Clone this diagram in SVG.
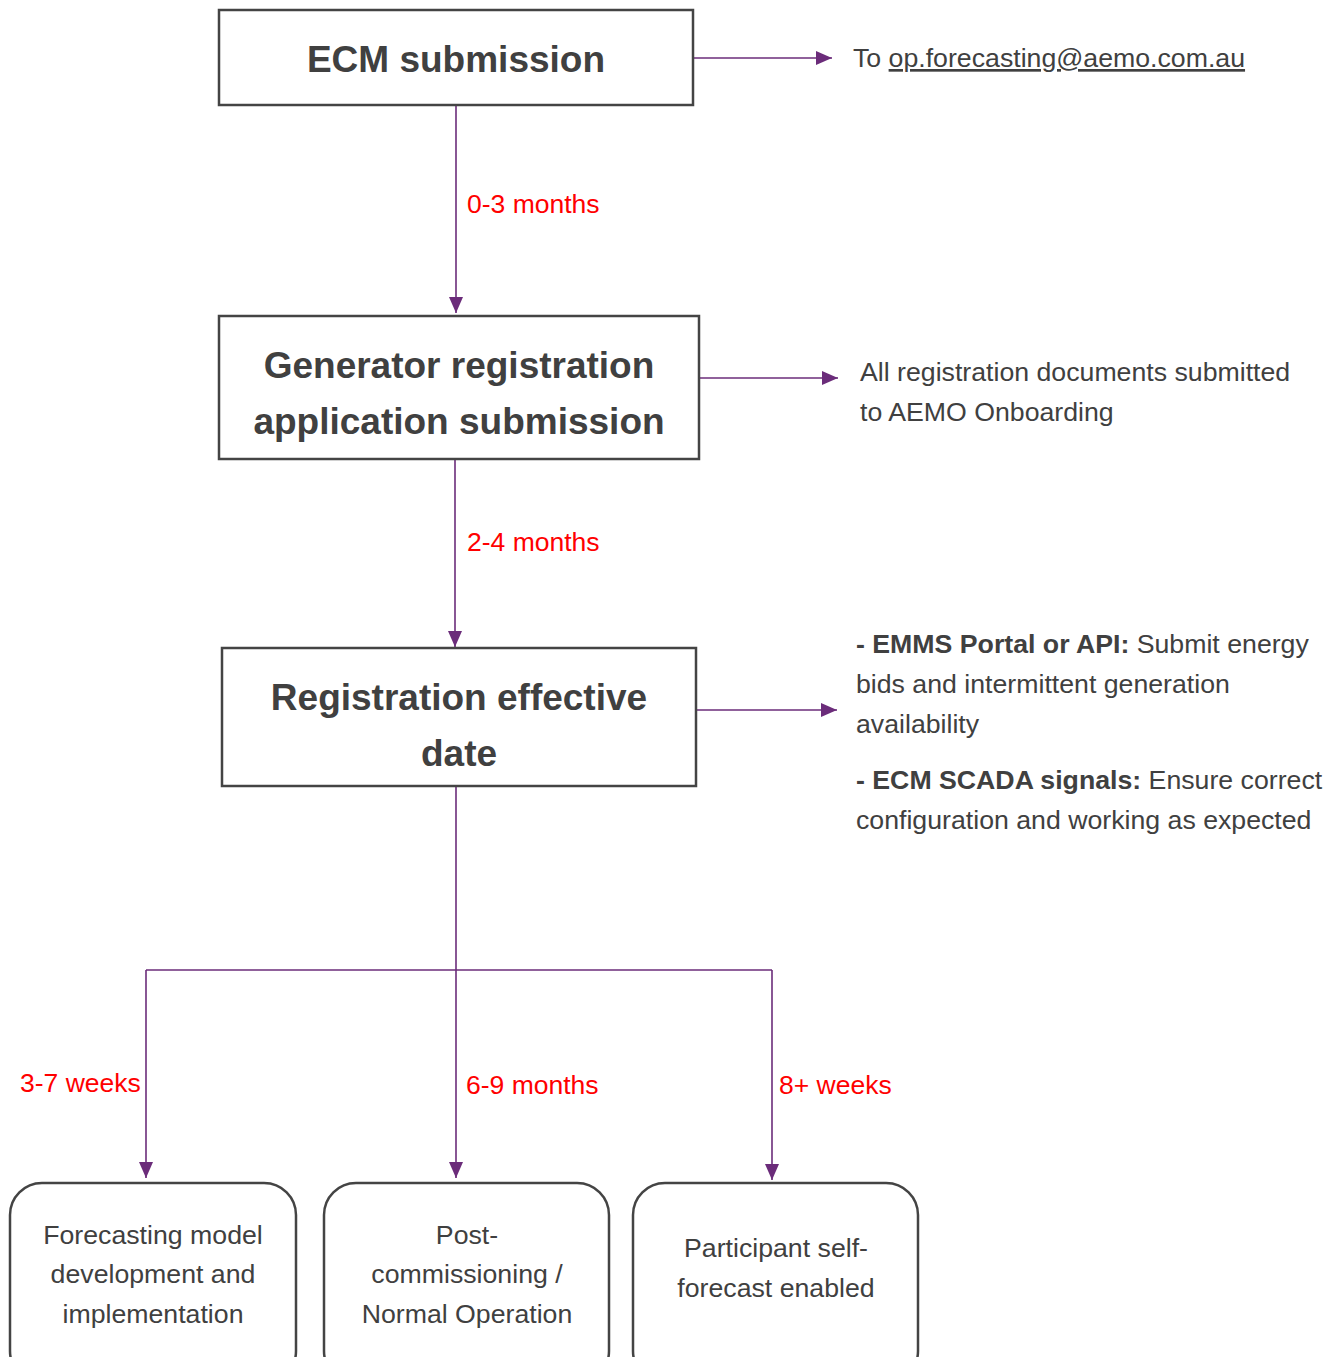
<svg xmlns="http://www.w3.org/2000/svg" width="1341" height="1357" viewBox="0 0 1341 1357">
<style>
.box{fill:#fff;stroke:#444;stroke-width:2.5}
.rbox{fill:#fff;stroke:#444;stroke-width:2.5}
.h{font-family:"Liberation Sans",Arial,sans-serif;font-weight:bold;font-size:37px;fill:#404040;text-anchor:middle}
.t{font-family:"Liberation Sans",Arial,sans-serif;font-size:26.7px;fill:#404040}
.c{text-anchor:middle}
.b{font-weight:bold}
.red{font-family:"Liberation Sans",Arial,sans-serif;font-size:26.5px;fill:#ff0000}
.ln{fill:none;stroke:#6b2c7a;stroke-width:1.6}
</style>
<defs>
<marker id="ah" markerUnits="userSpaceOnUse" markerWidth="16" markerHeight="14" refX="16" refY="7" orient="auto">
<path d="M0,0 L16,7 L0,14 z" fill="#6b2c7a"/>
</marker>
</defs>
<g id="connectors">
<path class="ln" d="M456,106 V313" marker-end="url(#ah)"/>
<path class="ln" d="M694,58 H832" marker-end="url(#ah)"/>
<path class="ln" d="M455,460 V647" marker-end="url(#ah)"/>
<path class="ln" d="M700,378 H838" marker-end="url(#ah)"/>
<path class="ln" d="M697,710 H837" marker-end="url(#ah)"/>
<path class="ln" d="M456,787 V1178" marker-end="url(#ah)"/>
<path class="ln" d="M146,970 H772"/>
<path class="ln" d="M146,970 V1178" marker-end="url(#ah)"/>
<path class="ln" d="M772,970 V1180" marker-end="url(#ah)"/>
<text class="red" x="467" y="213">0-3 months</text>
<text class="red" x="467" y="551">2-4 months</text>
<text class="red" x="20" y="1092">3-7 weeks</text>
<text class="red" x="466" y="1094">6-9 months</text>
<text class="red" x="779" y="1094">8+ weeks</text>
</g>
<g id="ecm">
<rect class="box" x="219" y="10" width="474" height="95"/>
<text class="h" x="456" y="72">ECM submission</text>
</g>
<g id="ecm-note">
<text class="t" x="853" y="67">To <tspan text-decoration="underline">op.forecasting@aemo.com.au</tspan></text>
</g>
<g id="generator">
<rect class="box" x="219" y="316" width="480" height="143"/>
<text class="h" x="459" y="378">Generator registration</text>
<text class="h" x="459" y="434">application submission</text>
</g>
<g id="generator-note">
<text class="t" x="860" y="381">All registration documents submitted</text>
<text class="t" x="860" y="421">to AEMO Onboarding</text>
</g>
<g id="effective">
<rect class="box" x="222" y="648" width="474" height="138"/>
<text class="h" x="459" y="710">Registration effective</text>
<text class="h" x="459" y="766">date</text>
</g>
<g id="effective-note">
<text class="t" x="856" y="653"><tspan class="b">- EMMS Portal or API:</tspan> Submit energy</text>
<text class="t" x="856" y="693">bids and intermittent generation</text>
<text class="t" x="856" y="733">availability</text>
<text class="t" x="856" y="789"><tspan class="b">- ECM SCADA signals:</tspan> Ensure correct</text>
<text class="t" x="856" y="829">configuration and working as expected</text>
</g>
<g id="forecasting">
<rect class="rbox" x="10" y="1183" width="286" height="200" rx="32"/>
<text class="t c" x="153" y="1244">Forecasting model</text>
<text class="t c" x="153" y="1283">development and</text>
<text class="t c" x="153" y="1323">implementation</text>
</g>
<g id="post">
<rect class="rbox" x="324" y="1183" width="285" height="200" rx="32"/>
<text class="t c" x="467" y="1244">Post-</text>
<text class="t c" x="467" y="1283">commissioning /</text>
<text class="t c" x="467" y="1323">Normal Operation</text>
</g>
<g id="selfforecast">
<rect class="rbox" x="633" y="1183" width="285" height="200" rx="32"/>
<text class="t c" x="776" y="1257">Participant self-</text>
<text class="t c" x="776" y="1297">forecast enabled</text>
</g>
</svg>
